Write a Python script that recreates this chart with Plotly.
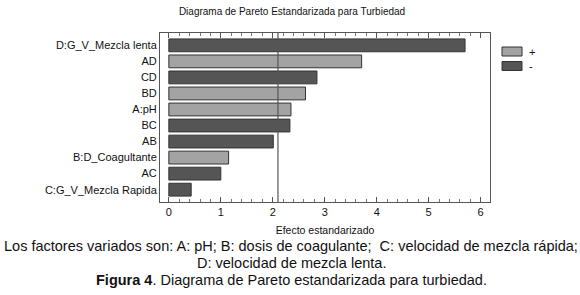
import plotly.graph_objects as go

categories = ["D:G_V_Mezcla lenta", "AD", "CD", "BD", "A:pH", "BC", "AB",
              "B:D_Coagultante", "AC", "C:G_V_Mezcla Rapida"]
effects = [5.70, 3.71, 2.85, 2.63, 2.35, 2.33, 2.01, 1.15, 1.00, 0.43]
signs = ["-", "+", "-", "+", "+", "-", "-", "+", "-", "-"]
critical_value = 2.10
x_ticks = [0, 1, 2, 3, 4, 5, 6]

LIGHT = "#a3a3a3"
DARK = "#555555"
EDGE = "#333333"
FONT = "Liberation Sans, Arial, sans-serif"
sign_colors = {"+": LIGHT, "-": DARK}

fig = go.Figure()
for sgn, col in sign_colors.items():
    ys = [c for c, s in zip(categories, signs) if s == sgn]
    xs = [e for e, s in zip(effects, signs) if s == sgn]
    fig.add_trace(go.Bar(
        y=ys, x=xs, orientation="h", name=sgn, width=0.8, showlegend=False,
        marker=dict(color=col, line=dict(color=EDGE, width=1)),
    ))

fig.add_shape(type="line", xref="x", yref="paper", x0=critical_value, x1=critical_value,
              y0=0, y1=1, line=dict(color="#555555", width=1.2), layer="above")

W0, H0, L, R, T, B = 580, 295, 160, 90, 33, 93
plot_h = H0 - T - B
plot_w = W0 - L - R

def py(pix):
    return (H0 - B - pix) / plot_h

def px(pix):
    return (pix - L) / plot_w

# manual legend (paper coordinates)
for i, (sgn, col) in enumerate(sign_colors.items()):
    yc = 51.5 + i * 14.5
    fig.add_shape(type="rect", xref="paper", yref="paper",
                  x0=px(502), x1=px(522), y0=py(yc + 4.5), y1=py(yc - 4.5),
                  fillcolor=col, line=dict(color=EDGE, width=1))
    fig.add_annotation(text=sgn, xref="paper", yref="paper", x=px(527), y=py(yc),
                       xanchor="left", yanchor="middle", showarrow=False,
                       font=dict(size=11, family=FONT, color="#111111"))

fig.update_layout(
    width=W0, height=H0,
    margin=dict(l=L, r=R, t=T, b=B, autoexpand=False),
    paper_bgcolor="white", plot_bgcolor="white",
    barmode="overlay",
    font=dict(family=FONT, size=11, color="#111111"),
    title=dict(text="Diagrama de Pareto Estandarizada para Turbiedad",
               x=292 / W0, xanchor="center", y=1 - 11 / H0, yanchor="middle",
               xref="container",
               font=dict(size=10, family=FONT, color="#111111")),
    showlegend=False,
    xaxis=dict(range=[-0.17, 6.18], tickvals=x_ticks, ticks="inside", ticklen=5,
               tickcolor="#555555", showgrid=False, zeroline=False, automargin=False,
               showline=True, linecolor="#555555", linewidth=1, mirror="ticks",
               minor=dict(dtick=0.2, tick0=0, ticks="inside", ticklen=3, tickcolor="#777777", showgrid=False),
               tickfont=dict(size=11), title=dict(text="Efecto estandarizado", font=dict(size=10.5), standoff=9)),
    yaxis=dict(categoryorder="array", categoryarray=categories, range=[9.77, -0.77],
               showgrid=False, zeroline=False, ticks="", showline=True, automargin=False,
               linecolor="#555555", linewidth=1, mirror=True,
               tickfont=dict(size=11)),
)

caption = [
    ("Los factores variados son: A: pH; B: dosis de coagulante;  C: velocidad de mezcla rápida;", 246),
    ("D: velocidad de mezcla lenta.", 263),
    ("<b>Figura 4</b>. Diagrama de Pareto estandarizada para turbiedad.", 280),
]
for txt, ypix in caption:
    fig.add_annotation(text=txt, xref="paper", yref="paper", x=px(291),
                       y=py(ypix), xanchor="center", yanchor="middle", showarrow=False,
                       font=dict(size=14.5, family=FONT, color="#111111"))

fig.write_html("out.html", config={"displayModeBar": False},
               post_script="document.body.style.margin='0';document.body.style.padding='0';")
